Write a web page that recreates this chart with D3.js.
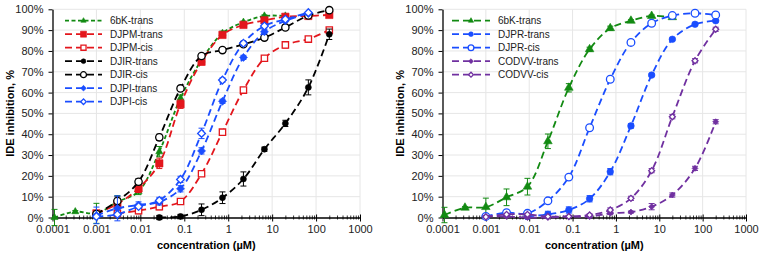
<!DOCTYPE html>
<html>
<head>
<meta charset="utf-8">
<script src="https://cdn.jsdelivr.net/npm/d3@7"></script>
<style>
body { margin: 0; background: #fff; }
svg { display: block; font-family: "Liberation Sans", Arial, sans-serif; }
</style>
</head>
<body>
<svg id="chart" width="763" height="255"></svg>
<script>
// concentrations in µM (3-fold dilution series)
const conc = [0.000111, 0.00033, 0.001, 0.003, 0.0091, 0.027, 0.082, 0.247, 0.74, 2.22, 6.67, 20, 66.7, 200];
const xTickValues = [0.0001, 0.001, 0.01, 0.1, 1, 10, 100, 1000];
const xTickLabels = ["0.0001", "0.001", "0.01", "0.1", "1", "10", "100", "1000"];
const yTickValues = [0, 10, 20, 30, 40, 50, 60, 70, 80, 90, 100];

// left panel, % inhibition (null = not measured)
const bk6L      = [0, 2.8, 2, 7.5, 12.5, 31.6, 57.3, 75.6, 88.5, 93.8, 96.8, 96.8, null, null];
const bk6LErr   = [3.9, 0.5, 4.8, 3, 1.5, 2.5, 1.5, 1, 1, 0.5, 0.5, 0.5, null, null];
const djpmT     = [null, null, 2, 6.5, 14, 26, 54.4, 74.8, 87.7, 92.5, 94.7, 96.4, 96.8, 97.3];
const djpmTErr  = [null, null, 1, 2, 2, 2.5, 2, 1.5, 1, 1, 1, 1, 1, 1];
const djpmC     = [null, null, null, 2, 3.3, 5.2, 7.7, 21, 41, 61.2, 76.5, 82.9, 85.7, 90];
const djpmCErr  = [null, null, null, 1, 1.5, 1.5, 1, 1, 1, 1, 1, 1.5, 1, 1];
const djirT     = [null, null, null, null, null, 0, 0.5, 3.7, 9.5, 18.5, 32.8, 45.2, 62.5, 88];
const djirTErr  = [null, null, null, null, null, 1, 1, 2.8, 2.8, 3.4, 1, 1.5, 3.6, 2.5];
const djirC     = [null, null, 1.7, 7.9, 17.2, 38.5, 62, 77.6, 80.4, 83.2, 86.4, 91.3, 97, 99.6];
const djirCErr  = [null, null, 1, 2, 1.5, 1.5, 1, 1, 1, 1, 1, 1, 0.5, 0.5];
const djpiT     = [null, null, 1, 4.4, 6, 7.5, 13.8, 32, 55.8, 76.9, 89.2, 94.5, 98, null];
const djpiTErr  = [null, null, 4, 6, 1.5, 1.5, 1.5, 1.5, 1, 1, 1, 0.5, 0.5, null];
const djpiC     = [null, null, 0.5, 1.5, 5.3, 8.2, 18.3, 40.4, 66, 83.7, 92, 95.2, 98.4, null];
const djpiCErr  = [null, null, 1, 1, 1, 1.5, 1.5, 2.5, 1, 1, 1, 0.5, 0.5, null];

// right panel
const bk6R      = [1.2, 4.7, 5, 9.7, 14.8, 36.6, 62.3, 80.8, 90.9, 94.5, 96.8, 96.2, null, null];
const bk6RErr   = [3.7, 0.5, 4.3, 4, 4, 3.5, 2, 1, 1, 0.5, 0.5, 0.5, null, null];
const djprT     = [null, null, null, null, 0.5, 1.5, 3.6, 9, 22, 44, 68.4, 85.6, 92.8, 94.5];
const djprTErr  = [null, null, null, null, 0.5, 1.5, 1.5, 1.5, 1.5, 1, 0.5, 0.5, 0.5, 0.5];
const djprC     = [null, null, 0.5, 2.3, 2, 8, 19.4, 43.1, 66.4, 84.1, 93.3, 97, 98.1, 97.3];
const djprCErr  = [null, null, 0.5, 0.5, 0.5, 0.5, 0.5, 0.5, 0.5, 0.5, 0.5, 0.5, 0.5, 0.5];
const codvvT    = [null, null, 0.5, 0.5, 0, 0, 0.5, 0.4, 2, 2.6, 5.2, 10.8, 23.6, 46];
const codvvTErr = [null, null, 0.5, 0.5, 0.5, 0.5, 0.5, 0.5, 0.5, 0.5, 1.5, 1, 1, 1];
const codvvC    = [null, null, 0.3, 1.5, 1.5, 0.5, 0.5, 1.2, 3.6, 9.2, 22.5, 48.4, 75.3, 90.4];
const codvvCErr = [null, null, 0.5, 0.5, 0.5, 0.5, 0.5, 0.5, 1, 1, 1, 1, 1, 1];

const GREEN = "#128a12", RED = "#e3161c", BLACK = "#000", BLUE = "#1a4dff", PURPLE = "#7030a0";

const leftSeries = [
    {name: "6bK-trans",  v: bk6L,  e: bk6LErr,  color: GREEN, sym: "tri", fill: true,  size: 22, lsize: 12, dash: "4,2.5"},
    {name: "DJPM-trans", v: djpmT, e: djpmTErr, color: RED,   sym: "sq",  fill: true,  size: 54, lsize: 36, dash: "7,4"},
    {name: "DJPM-cis",   v: djpmC, e: djpmCErr, color: RED,   sym: "sq",  fill: false, size: 40, lsize: 26, dash: "7,4"},
    {name: "DJIR-trans", v: djirT, e: djirTErr, color: BLACK, sym: "ci",  fill: true,  size: 28, lsize: 18, dash: "7,4"},
    {name: "DJIR-cis",   v: djirC, e: djirCErr, color: BLACK, sym: "ci",  fill: false, size: 42, lsize: 28, dash: "7,4"},
    {name: "DJPI-trans", v: djpiT, e: djpiTErr, color: BLUE,  sym: "di",  fill: true,  size: 32, lsize: 16, dash: "7,4"},
    {name: "DJPI-cis",   v: djpiC, e: djpiCErr, color: BLUE,  sym: "di",  fill: false, size: 30, lsize: 16, dash: "7,4"}
];
const rightSeries = [
    {name: "6bK-trans",   v: bk6R,   e: bk6RErr,   color: GREEN,  sym: "tri", fill: true,  size: 32, lsize: 12, dash: "7,4"},
    {name: "DJPR-trans",  v: djprT,  e: djprTErr,  color: BLUE,   sym: "ci",  fill: true,  size: 34, lsize: 18, dash: "7,4"},
    {name: "DJPR-cis",    v: djprC,  e: djprCErr,  color: BLUE,   sym: "ci",  fill: false, size: 46, lsize: 26, dash: "7,4"},
    {name: "CODVV-trans", v: codvvT, e: codvvTErr, color: PURPLE, sym: "di",  fill: true,  size: 18, lsize: 12, dash: "7,4"},
    {name: "CODVV-cis",   v: codvvC, e: codvvCErr, color: PURPLE, sym: "di",  fill: false, size: 18, lsize: 12, dash: "7,4"}
];

const symbolTypes = {tri: d3.symbolTriangle, sq: d3.symbolSquare, ci: d3.symbolCircle, di: d3.symbolSquare};
const svg = d3.select("#chart");

function drawMarker(g, s, cx, cy, size) {
    g.append("path")
        .attr("d", d3.symbol().type(symbolTypes[s.sym]).size(size)())
        .attr("transform", `translate(${cx},${cy})` + (s.sym === "di" ? " rotate(45)" : ""))
        .attr("fill", s.fill ? s.color : "#fff")
        .attr("stroke", s.color)
        .attr("stroke-width", s.fill ? 0.6 : 1.3);
}

function drawPanel(x0, x1, series, legendX, legendLineW) {
    const yTop = 9.3, yBot = 217.5;
    const x = d3.scaleLog().domain([1e-4, 1e3]).range([x0, x1]);
    const y = d3.scaleLinear().domain([0, 100]).range([yBot, yTop]);
    const g = svg.append("g");

    // grid
    g.append("g").selectAll("line").data(xTickValues.slice(1)).join("line")
        .attr("x1", d => x(d)).attr("x2", d => x(d)).attr("y1", yTop).attr("y2", yBot)
        .attr("stroke", "#e6e6e6").attr("stroke-width", 1);
    g.append("g").selectAll("line").data(yTickValues.slice(1)).join("line")
        .attr("x1", x0).attr("x2", x1).attr("y1", d => y(d)).attr("y2", d => y(d))
        .attr("stroke", "#e6e6e6").attr("stroke-width", 1);

    // axes
    const minors = [];
    xTickValues.slice(0, -1).forEach(d => { for (let k = 2; k < 10; k++) minors.push(d * k); });
    const gxMin = g.append("g").attr("transform", `translate(0,${yBot})`)
        .call(d3.axisBottom(x).tickValues(minors).tickSize(2).tickSizeOuter(0).tickFormat(""));
    gxMin.select(".domain").remove();
    gxMin.selectAll(".tick line").attr("y1", -2).attr("stroke-width", 0.8);
    const gx = g.append("g").attr("transform", `translate(0,${yBot})`)
        .call(d3.axisBottom(x).tickValues(xTickValues).tickSize(4).tickSizeOuter(0).tickPadding(4)
            .tickFormat((d, i) => xTickLabels[i]));
    gx.selectAll(".tick line").attr("y1", -3);
    gx.select(".domain").attr("stroke-width", 1.3);
    gx.selectAll("text").attr("font-size", 11).attr("fill", "#222").attr("font-family", null);

    const gy = g.append("g").attr("transform", `translate(${x0},0)`)
        .call(d3.axisLeft(y).tickValues(yTickValues).tickSize(4).tickSizeOuter(0).tickPadding(5)
            .tickFormat(d => d + "%"));
    gy.select(".domain").attr("stroke-width", 1.3);
    gy.selectAll("text").attr("font-size", 11).attr("fill", "#222").attr("font-family", null);

    // titles
    g.append("text").attr("x", (x0 + x1) / 2).attr("y", 249).attr("text-anchor", "middle")
        .attr("font-size", 11).attr("font-weight", "bold").text("concentration (µM)");
    g.append("text").attr("transform", `translate(${x0 - 39},${(yTop + yBot) / 2}) rotate(-90)`)
        .attr("text-anchor", "middle").attr("font-size", 11).attr("font-weight", "bold")
        .text("IDE inhibition, %");

    // series
    const line = d3.line().x(d => x(d.c)).y(d => y(d.v)).curve(d3.curveCatmullRom.alpha(0.5));
    series.forEach(s => {
        const pts = conc.map((c, i) => ({c: c, v: s.v[i], e: s.e[i]})).filter(d => d.v != null);
        const sg = g.append("g");
        sg.append("path").datum(pts).attr("d", line)
            .attr("fill", "none").attr("stroke", s.color).attr("stroke-width", 1.8)
            .attr("stroke-dasharray", s.dash);
        pts.filter(d => d.e > 0).forEach(d => {
            const cx = x(d.c);
            sg.append("path")
                .attr("d", `M${cx},${y(d.v - d.e)}V${y(d.v + d.e)}M${cx - 3},${y(d.v - d.e)}H${cx + 3}M${cx - 3},${y(d.v + d.e)}H${cx + 3}`)
                .attr("stroke", s.color).attr("stroke-width", 1).attr("fill", "none");
        });
        pts.forEach(d => drawMarker(sg, s, x(d.c), y(d.v), s.size));
    });

    // legend
    const lg = g.append("g");
    series.forEach((s, i) => {
        const ly = 20.7 + i * 13.5;
        lg.append("line").attr("x1", legendX).attr("x2", legendX + legendLineW).attr("y1", ly).attr("y2", ly)
            .attr("stroke", s.color).attr("stroke-width", 1.8).attr("stroke-dasharray", s.dash);
        drawMarker(lg, s, legendX + legendLineW / 2, ly, s.lsize);
        lg.append("text").attr("x", legendX + legendLineW + 8).attr("y", ly + 3.5)
            .attr("font-size", 10).attr("fill", "#222").text(s.name);
    });
}

drawPanel(52.5, 360, leftSeries, 65, 37);
drawPanel(442.5, 746, rightSeries, 452, 38);
</script>
</body>
</html>
